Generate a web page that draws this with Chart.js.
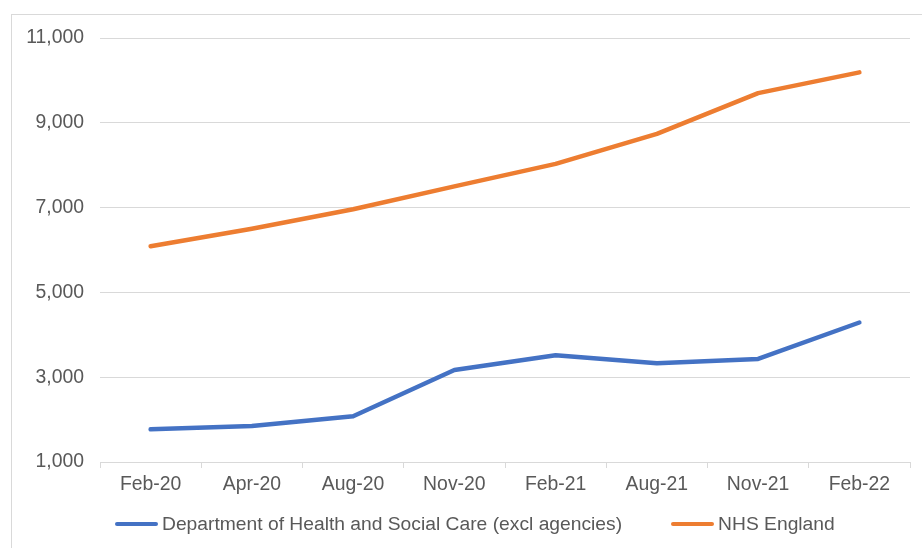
<!DOCTYPE html>
<html>
<head>
<meta charset="utf-8">
<script src="https://cdn.jsdelivr.net/npm/chart.js@4"></script>
<style>
  html, body { margin: 0; padding: 0; background: #fff; overflow: hidden; }
  #wrap { position: relative; width: 922px; height: 548px; font-family: "Liberation Sans", Arial, sans-serif; }
  #frame { position: absolute; left: 11px; top: 14px; width: 1000px; height: 1000px; border: 1px solid #d9d9d9; }
  canvas { position: absolute; left: 0; top: 0; }
  #legend { position: absolute; left: 115px; top: 512px; height: 24px; display: flex; align-items: center; font-size: 19.25px; color: #595959; white-space: nowrap; }
  .item { display: flex; align-items: center; margin-right: 49px; }
  .swatch { width: 43px; height: 4.5px; border-radius: 2.25px; margin-right: 4px; }
</style>
</head>
<body>
<div id="wrap">
  <div id="frame"></div>
  <canvas id="chart" width="922" height="548"></canvas>
  <div id="legend"></div>
</div>
<script>
const months = ['Feb-20', 'Apr-20', 'Aug-20', 'Nov-20', 'Feb-21', 'Aug-21', 'Nov-21', 'Feb-22'];
const dhsc = [1770, 1850, 2080, 3170, 3520, 3330, 3430, 4290];
const nhsEngland = [6090, 6500, 6960, 7500, 8030, 8740, 9700, 10190];
const yTicks = [1000, 3000, 5000, 7000, 9000, 11000];

const grey = '#595959';
const gridGrey = '#d9d9d9';
Chart.defaults.font.family = '"Liberation Sans", Arial, sans-serif';
Chart.defaults.font.size = 19.4;
Chart.defaults.color = grey;

function line(label, data, color) {
  return {
    label, data,
    borderColor: color, backgroundColor: color,
    borderWidth: 4.5, pointRadius: 0, tension: 0,
    borderCapStyle: 'round', borderJoinStyle: 'round'
  };
}

const chart = new Chart(document.getElementById('chart'), {
  type: 'line',
  data: {
    labels: months,
    datasets: [
      line('Department of Health and Social Care (excl agencies)', dhsc, '#4472C4'),
      line('NHS England', nhsEngland, '#ED7D31')
    ]
  },
  options: {
    responsive: false,
    animation: false,
    layout: { padding: { left: 0, right: 12, top: 38, bottom: 46 } },
    plugins: {
      tooltip: { enabled: false },
      legend: { display: false }
    },
    scales: {
      x: {
        offset: true,
        grid: { offset: true, drawOnChartArea: false, drawTicks: true, tickLength: 6, color: gridGrey },
        border: { color: gridGrey, width: 1 },
        ticks: { padding: 5, maxRotation: 0, color: grey },
        afterFit: (s) => { s.height = 40; }
      },
      y: {
        min: 1000, max: 11000,
        afterBuildTicks: (s) => { s.ticks = yTicks.map(v => ({ value: v })); },
        grid: { drawTicks: false, color: gridGrey },
        border: { display: false },
        ticks: { padding: 16, color: grey, callback: (v) => v.toLocaleString('en-US') },
        afterFit: (s) => { s.width = 100; }
      }
    }
  }
});

// legend built from the chart's datasets
const legend = document.getElementById('legend');
chart.data.datasets.forEach(ds => {
  const item = document.createElement('div');
  item.className = 'item';
  const sw = document.createElement('span');
  sw.className = 'swatch';
  sw.style.background = ds.borderColor;
  const txt = document.createElement('span');
  txt.textContent = ds.label;
  item.append(sw, txt);
  legend.append(item);
});
</script>
</body>
</html>
